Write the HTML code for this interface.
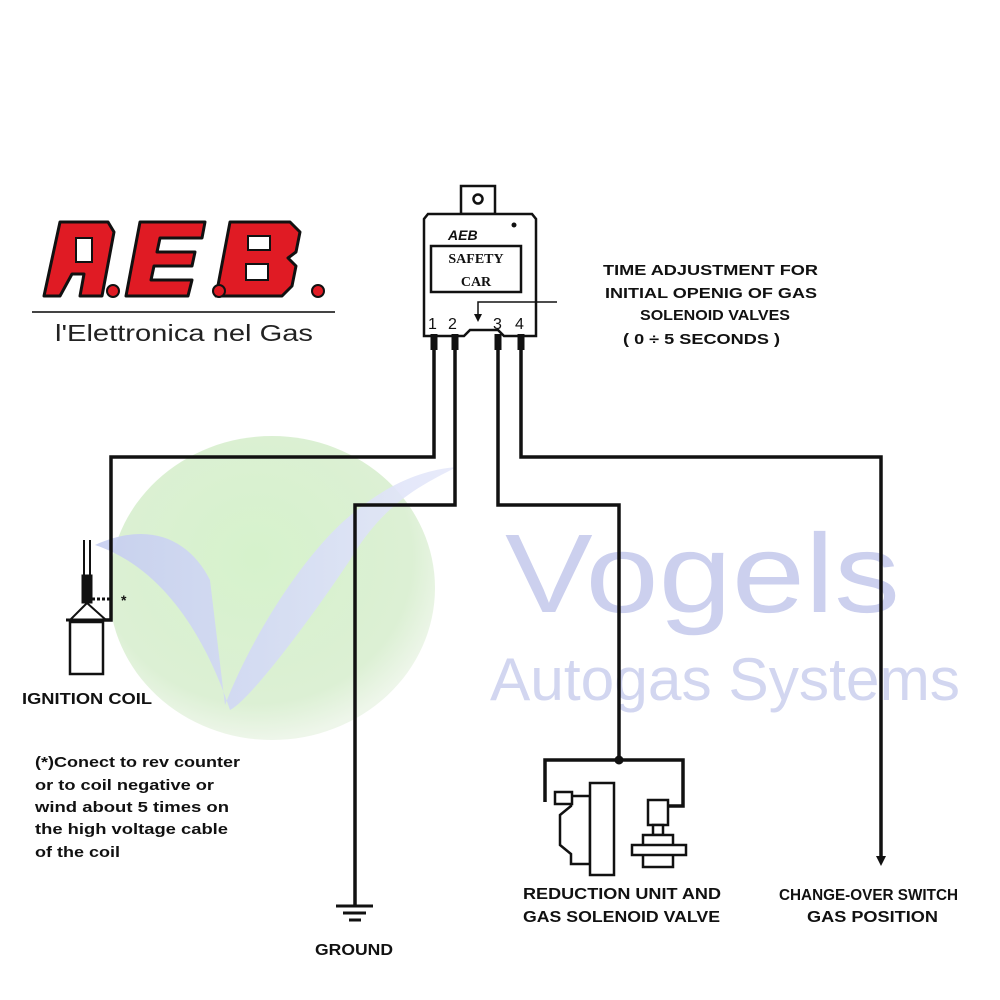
<!DOCTYPE html>
<html><head><meta charset="utf-8"><style>
body{margin:0;background:#fff}
svg{display:block}
text{font-family:"Liberation Sans",Arial,sans-serif;font-weight:bold;fill:#111}
</style></head><body>
<svg width="1000" height="1000" viewBox="0 0 1000 1000" xmlns="http://www.w3.org/2000/svg">
<defs>
<radialGradient id="g" cx="0.45" cy="0.4" r="0.6">
<stop offset="0" stop-color="#d6f2cc"/><stop offset="0.8" stop-color="#dcf0d4"/><stop offset="1" stop-color="#eef6ea"/>
</radialGradient>
<linearGradient id="v" x1="0" y1="0" x2="1" y2="0">
<stop offset="0" stop-color="#c5cdf0"/><stop offset="0.5" stop-color="#d5dbf6"/><stop offset="1" stop-color="#e6e9fa"/>
</linearGradient>
</defs>
<ellipse cx="272" cy="588" rx="163" ry="152" fill="url(#g)"/>
<path d="M95 545 C150 520 190 540 210 580 L225 705 C250 640 300 560 345 520 C385 485 420 470 457 467 C410 490 380 510 350 560 C310 620 250 700 230 710 C210 650 170 570 95 545 Z" fill="url(#v)" opacity="0.9"/>
<text x="505" y="612" font-size="112" textLength="395" lengthAdjust="spacingAndGlyphs" style="font-weight:normal;fill:#ccd0ee">Vogels</text>
<text x="490" y="700" font-size="60" textLength="470" lengthAdjust="spacingAndGlyphs" style="font-weight:normal;fill:#d2d6f0">Autogas Systems</text>

<g stroke="#111" stroke-width="3" fill="#e01b24" stroke-linejoin="round">
<path d="M60 222 L108 222 L114 232 L102 296 L80 296 L84 274 L72 274 L60 296 L44 296 Z"/>
<path d="M140 222 L205 222 L202 238 L160 238 L157 252 L195 252 L192 266 L154 266 L151 280 L192 280 L188 296 L126 296 Z"/>
<path d="M230 222 L290 222 L300 232 L296 252 L288 258 L296 266 L292 286 L282 296 L216 296 Z"/>
</g>
<g fill="#fff" stroke="#111" stroke-width="2"><rect x="76" y="238" width="16" height="24"/><rect x="248" y="236" width="22" height="14"/><rect x="246" y="264" width="22" height="16"/></g>
<circle cx="113" cy="291" r="6" fill="#e01b24" stroke="#111" stroke-width="2"/>
<circle cx="219" cy="291" r="6" fill="#e01b24" stroke="#111" stroke-width="2"/>
<circle cx="318" cy="291" r="6" fill="#e01b24" stroke="#111" stroke-width="2"/>
<line x1="32" y1="312" x2="335" y2="312" stroke="#444" stroke-width="2"/>
<text x="55" y="341" font-size="23" textLength="258" lengthAdjust="spacingAndGlyphs" style="font-weight:normal;fill:#222">l'Elettronica nel Gas</text>

<g stroke="#111" stroke-width="2.5" fill="#fff">
<rect x="461" y="186" width="34" height="28"/>
<circle cx="478" cy="199" r="4.5"/>
<path d="M424 336 L424 219 L428 214 L532 214 L536 219 L536 336 L504 336 L498 330 L470 330 L464 336 Z"/>
<rect x="431" y="246" width="90" height="46"/>
</g>
<text x="448" y="240" font-size="14" style="font-style:italic;font-weight:900">AEB</text>
<circle cx="514" cy="225" r="2.5" fill="#111"/>
<text x="476" y="263" font-size="14" text-anchor="middle" style="font-family:'Liberation Serif',serif;font-weight:bold">SAFETY</text>
<text x="476" y="286" font-size="14" text-anchor="middle" style="font-family:'Liberation Serif',serif;font-weight:bold">CAR</text>
<text x="428" y="329" font-size="16" style="font-weight:normal">1</text>
<text x="448" y="329" font-size="16" style="font-weight:normal">2</text>
<text x="493" y="329" font-size="16" style="font-weight:normal">3</text>
<text x="515" y="329" font-size="16" style="font-weight:normal">4</text>
<path d="M557 302 L478 302 L478 318" stroke="#111" stroke-width="1.5" fill="none"/>
<path d="M474 314 L478 322 L482 314 Z" fill="#111"/>
<g font-size="15">
<text x="603" y="275" textLength="215" lengthAdjust="spacingAndGlyphs">TIME ADJUSTMENT FOR</text>
<text x="605" y="298" textLength="212" lengthAdjust="spacingAndGlyphs">INITIAL OPENIG OF GAS</text>
<text x="640" y="320" textLength="150" lengthAdjust="spacingAndGlyphs">SOLENOID VALVES</text>
<text x="623" y="344" textLength="157" lengthAdjust="spacingAndGlyphs">( 0 ÷ 5  SECONDS )</text>
</g>

<g stroke="#111" stroke-width="7"><line x1="434" y1="334" x2="434" y2="350"/><line x1="455" y1="334" x2="455" y2="350"/><line x1="498" y1="334" x2="498" y2="350"/><line x1="521" y1="334" x2="521" y2="350"/></g>

<g stroke="#111" stroke-width="3.5" fill="none">
<path d="M434 345 L434 457 L111 457 L111 620 L88 620"/>
<path d="M455 345 L455 505 L355 505 L355 906"/>
<path d="M498 345 L498 505 L619 505 L619 760"/>
<path d="M521 345 L521 457 L881 457 L881 858"/>
<path d="M545 802 L545 760 L683 760 L683 806 L668 806"/>
</g>
<path d="M876 856 L881 866 L886 856 Z" fill="#111"/>
<circle cx="619" cy="760" r="4.5" fill="#111"/>
<g stroke="#111" stroke-width="3"><line x1="336" y1="906" x2="373" y2="906"/><line x1="343" y1="913" x2="366" y2="913"/><line x1="349" y1="920" x2="361" y2="920"/></g>
<text x="315" y="955" font-size="16" textLength="78" lengthAdjust="spacingAndGlyphs">GROUND</text>

<g stroke="#111" fill="none">
<line x1="84" y1="540" x2="84" y2="575" stroke-width="2"/>
<line x1="90" y1="540" x2="90" y2="575" stroke-width="2"/>
<rect x="82" y="575" width="10" height="28" fill="#111" stroke-width="1"/>
<path d="M87 603 L70 620 L106 620 Z" fill="#fff" stroke-width="2"/>
<line x1="66" y1="620" x2="110" y2="620" stroke-width="3"/>
<rect x="70" y="622" width="33" height="52" fill="#fff" stroke-width="2.5"/>
<line x1="92" y1="599" x2="111" y2="599" stroke-width="3" stroke-dasharray="3 2"/>
</g>
<text x="121" y="605" font-size="14">*</text>
<text x="22" y="704" font-size="16" textLength="130" lengthAdjust="spacingAndGlyphs">IGNITION COIL</text>
<g font-size="15">
<text x="35" y="767" textLength="205" lengthAdjust="spacingAndGlyphs">(*)Conect to rev counter</text>
<text x="35" y="790" textLength="179" lengthAdjust="spacingAndGlyphs">or to coil negative or</text>
<text x="35" y="812" textLength="194" lengthAdjust="spacingAndGlyphs">wind about 5 times on</text>
<text x="35" y="834" textLength="193" lengthAdjust="spacingAndGlyphs">the high voltage cable</text>
<text x="35" y="857" textLength="85" lengthAdjust="spacingAndGlyphs">of the coil</text>
</g>

<g stroke="#111" stroke-width="2.5" fill="#fff">
<path d="M571 806 L560 815 L560 845 L571 854 L571 864 L590 864 L590 796 L571 796 Z"/>
<rect x="555" y="792" width="17" height="12"/>
<rect x="590" y="783" width="24" height="92"/>
<rect x="648" y="800" width="20" height="25"/>
<rect x="653" y="825" width="10" height="10"/>
<rect x="643" y="835" width="30" height="32"/>
<rect x="632" y="845" width="54" height="10"/>
</g>
<text x="523" y="899" font-size="16" textLength="198" lengthAdjust="spacingAndGlyphs">REDUCTION UNIT AND</text>
<text x="523" y="922" font-size="16" textLength="197" lengthAdjust="spacingAndGlyphs">GAS SOLENOID VALVE</text>
<text x="779" y="900" font-size="16" textLength="179" lengthAdjust="spacingAndGlyphs">CHANGE-OVER SWITCH</text>
<text x="807" y="922" font-size="16" textLength="131" lengthAdjust="spacingAndGlyphs">GAS POSITION</text>
</svg>
</body></html>
